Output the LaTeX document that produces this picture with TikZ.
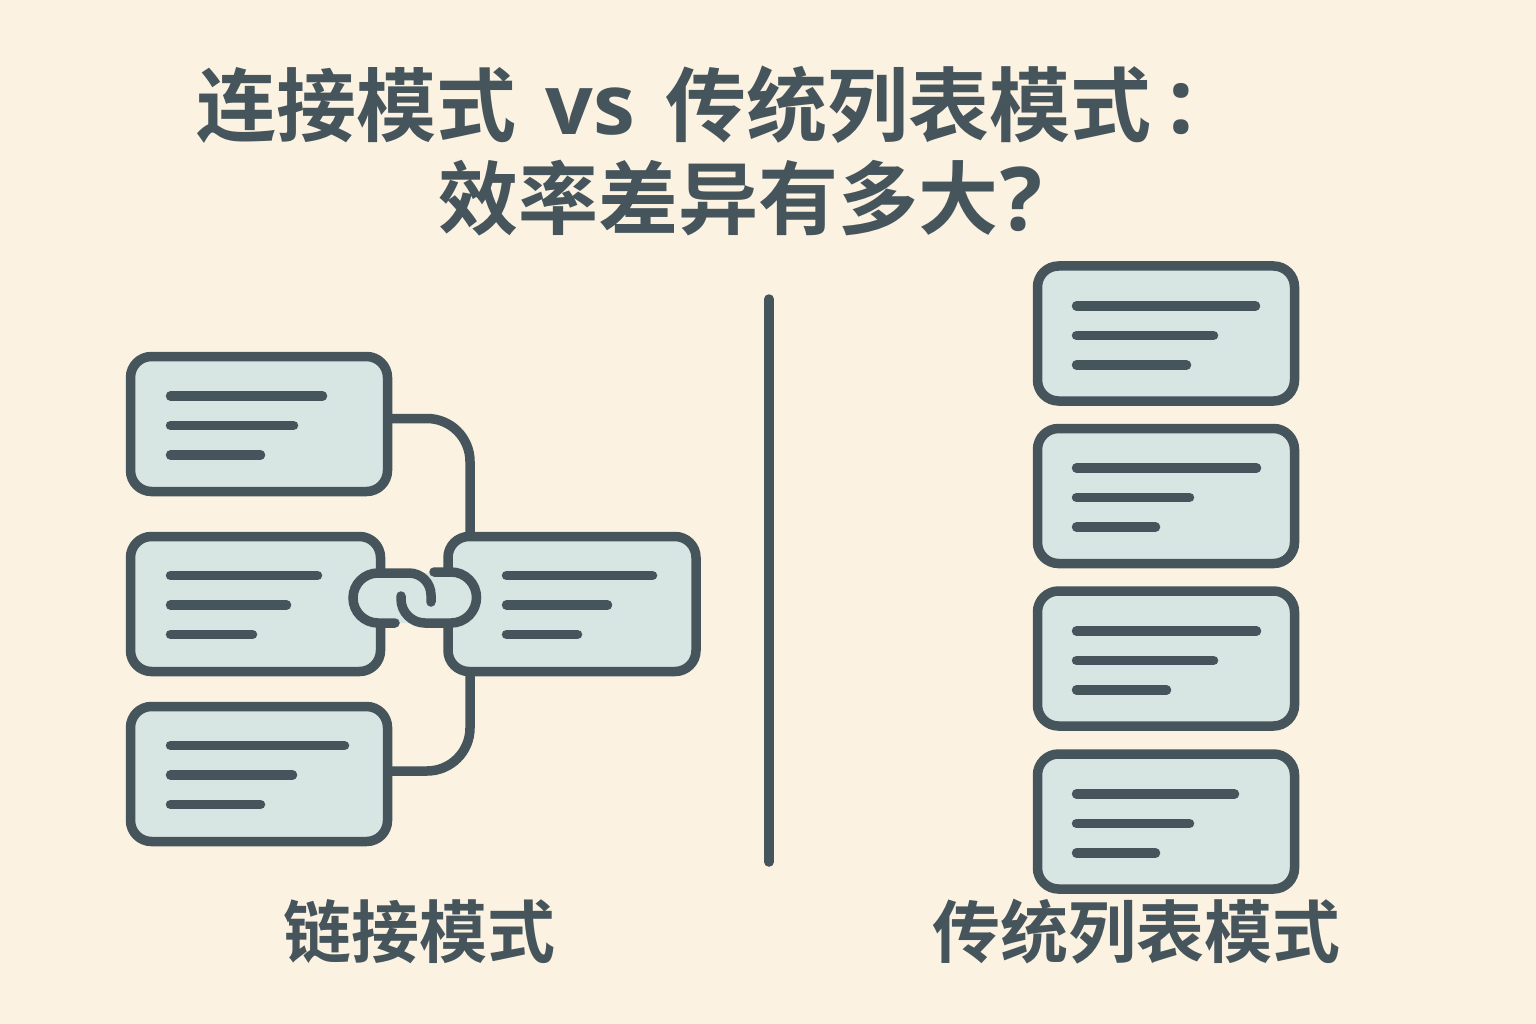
\documentclass[tikz,border=0pt]{standalone}
\usepackage{fontspec}
\newfontfamily\cjkbold{Noto Sans CJK SC Bold}
\newfontfamily\latinbold{Open Sans Bold}
\definecolor{bgc}{HTML}{FBF2E2}
\definecolor{boxc}{HTML}{D7E5E3}
\definecolor{inkc}{HTML}{46555C}
\tikzset{
  card/.style={draw=inkc,fill=boxc,line width=9.5pt,rounded corners=21pt,inner sep=0pt,outer sep=0pt,anchor=north west},
  textbar/.style={draw=inkc,line width=9.5pt,line cap=round},
  rule/.style={draw=inkc,line width=9.5pt,line cap=round},
  wire/.style={draw=inkc,line width=9.5pt},
  linkfill/.style={fill=boxc},
  linkline/.style={draw=inkc,line width=9.5pt,line cap=round},
  titletext/.style={font=\cjkbold\fontsize{80}{80}\selectfont,text=inkc,inner sep=0pt,anchor=base west},
  righttitle/.style={font=\cjkbold\fontsize{81}{81}\selectfont,text=inkc,inner sep=0pt,anchor=base west},
  vstext/.style={font=\latinbold\fontsize{84}{84}\selectfont,text=inkc,inner sep=0pt,anchor=base west},
  marktext/.style={font=\latinbold\fontsize{90}{90}\selectfont,text=inkc,inner sep=0pt,anchor=base west},
  asktext/.style={font=\latinbold\fontsize{88}{88}\selectfont,text=inkc,inner sep=0pt,anchor=base west},
  labeltext/.style={font=\cjkbold\fontsize{68}{68}\selectfont,text=inkc,inner sep=0pt,anchor=base west}
}
\newcommand{\cardat}[5]{\node[card,minimum width=#4pt,minimum height=#5pt] (#1) at (#2,#3) {};}
\newcommand{\bars}[5]{%
  \draw[textbar] (#1,#2) -- (#3,#2);
  \draw[textbar] (#1,#2+29.5) -- (#4,#2+29.5);
  \draw[textbar] (#1,#2+59) -- (#5,#2+59);}
\begin{document}
\begin{tikzpicture}[x=1pt,y=-1pt]
\useasboundingbox (0,0) rectangle (1536,1024);
\fill[bgc] (0,0) rectangle (1536,1024);

\node[titletext] (t1a) at (196,135.5) {连接模式};
\node[vstext] (t1b) at (545,135) {vs};
\node[righttitle] (t1c) at (665,135.5) {传统列表模式};
\node[marktext] (t1d) at (1168,133.5) {:};
\node[titletext] (t2) at (438,229) {效率差异有多大};
\node[asktext] (t2q) at (1000,231) {?};

% cards
\cardat{a}{130.5}{356.5}{257}{135}
\cardat{b}{130.5}{536.5}{250}{135}
\cardat{c}{130.5}{706.5}{257}{135}
\cardat{m}{448}{536.5}{248}{135}
\cardat{r1}{1037.5}{266}{257}{135}
\cardat{r2}{1037.5}{428.5}{257}{135}
\cardat{r3}{1037.5}{591}{257}{135}
\cardat{r4}{1037.5}{754}{257}{135}

% connectors
\draw[wire,rounded corners=43pt] ([yshift=5.5pt]a.east) -- ++(82.5,0) -- ([xshift=-102pt]m.north);
\draw[wire,rounded corners=43pt] ([yshift=3pt]c.east) -- ++(82.5,0) -- ([xshift=-102pt]m.south);

% divider
\coordinate (d1) at (769,299);
\coordinate (d2) at (769,862);
\draw[rule] (d1) -- (d2);

% bars
\bars{170.5}{396}{322.5}{293.5}{260.5}
\bars{170.5}{575.5}{317.5}{286.5}{252.5}
\bars{170.5}{745.5}{344.5}{292.5}{260.5}
\bars{506.5}{575.5}{652.5}{607.5}{577.5}
\bars{1076.5}{306}{1255.5}{1213.5}{1186.5}
\bars{1076.5}{468}{1256.5}{1189.5}{1155.5}
\bars{1076.5}{631}{1256.5}{1213.5}{1166.5}
\bars{1076.5}{794}{1234.5}{1189.5}{1155.5}

% chain link
\fill[linkfill] (378,573) -- (410,573) arc[start angle=-90,end angle=90,radius=25] -- (378,623) arc[start angle=90,end angle=270,radius=25] -- cycle;
\fill[linkfill] (425,573) -- (451,573) arc[start angle=-90,end angle=90,radius=25] -- (425,623) arc[start angle=90,end angle=270,radius=25] -- cycle;
\draw[linkline] (395,623) -- (378,623) arc[start angle=90,end angle=270,radius=25] -- (409,573) arc[start angle=-90,end angle=0,radius=22] -- (431,602);
\draw[linkline] (434,572) -- (451,572) arc[start angle=-90,end angle=90,radius=25.5] -- (425,623) arc[start angle=90,end angle=180,radius=24] -- (401,596);

% labels
\node[labeltext] (l1) at (283,957) {链接模式};
\node[labeltext] (l2) at (932,957) {传统列表模式};
\end{tikzpicture}
\end{document}
